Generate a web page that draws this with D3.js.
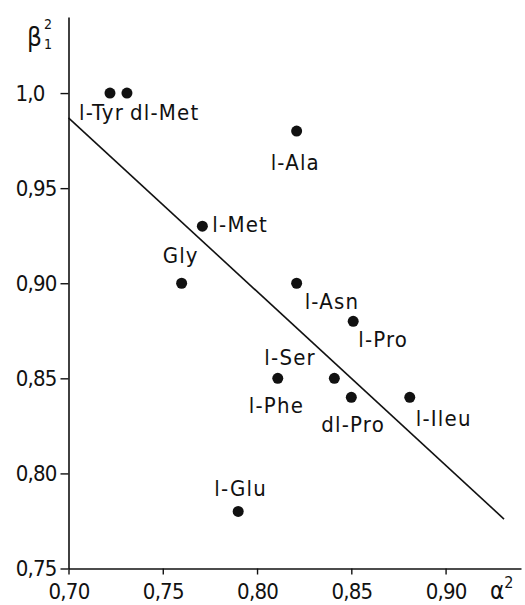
<!DOCTYPE html>
<html>
<head>
<meta charset="utf-8">
<script src="https://cdn.jsdelivr.net/npm/d3@7"></script>
<style>
  body { margin: 0; background: #fff; }
  text { font-family: "DejaVu Sans Condensed", "DejaVu Sans", sans-serif; fill: #111; }
</style>
</head>
<body>
<script>
// amino acids, alpha^2 (x) vs beta1^2 (y)
const names = ['l-Tyr', 'dl-Met', 'l-Ala', 'l-Met', 'Gly', 'l-Asn', 'l-Pro', 'l-Phe', 'l-Ser', 'dl-Pro', 'l-Ileu', 'l-Glu'];
const alphaSq = [0.722, 0.731, 0.821, 0.771, 0.760, 0.821, 0.851, 0.811, 0.841, 0.850, 0.881, 0.790];
const betaSq = [1.00, 1.00, 0.98, 0.93, 0.90, 0.90, 0.88, 0.85, 0.85, 0.84, 0.84, 0.78];

// fitted line end points
const fitX = [0.70, 0.931];
const fitY = [0.987, 0.776];

const xTicks = [0.70, 0.75, 0.80, 0.85, 0.90];
const xTickLabels = ['0,70', '0,75', '0,80', '0,85', '0,90'];
const yTicks = [0.75, 0.80, 0.85, 0.90, 0.95, 1.0];
const yTickLabels = ['0,75', '0,80', '0,85', '0,90', '0,95', '1,0'];

// label placement relative to its point (layout only)
const labelOffset = {
  'l-Tyr': [-31, 27], 'dl-Met': [3, 27], 'l-Ala': [-26, 39], 'l-Met': [10, 6],
  'Gly': [-19, -20], 'l-Asn': [8, 26], 'l-Pro': [5, 26], 'l-Phe': [-29, 35],
  'l-Ser': [-70, -13], 'dl-Pro': [-30, 35], 'l-Ileu': [6, 29], 'l-Glu': [-24, -15]
};

const width = 525, height = 605;

const x = d3.scaleLinear().domain([0.70, 0.94]).range([68.5, 521]);
const y = d3.scaleLinear().domain([0.75, 1.04]).range([568.5, 17]);

const svg = d3.select('body').append('svg')
  .attr('width', width)
  .attr('height', height);

// axes
const xAxis = svg.append('g')
  .attr('transform', `translate(0,${y(0.75)})`)
  .call(d3.axisBottom(x).tickValues(xTicks).tickSize(6).tickSizeOuter(0).tickPadding(10)
    .tickFormat((d, i) => xTickLabels[i]));

const yAxis = svg.append('g')
  .attr('transform', `translate(${x(0.70)},0)`)
  .call(d3.axisLeft(y).tickValues(yTicks).tickSize(8).tickSizeOuter(0).tickPadding(4)
    .tickFormat((d, i) => yTickLabels[i]));

[xAxis, yAxis].forEach(g => {
  g.select('.domain').attr('stroke', '#111').attr('stroke-width', 1.6);
  g.selectAll('.tick line').attr('stroke', '#111').attr('stroke-width', 1.4);
  g.selectAll('.tick text')
    .attr('fill', '#111')
    .style('font-size', '22px')
    .style('letter-spacing', '-0.8px')
    .style('font-family', '"DejaVu Sans Condensed", "DejaVu Sans", sans-serif');
});
xAxis.selectAll('.tick text').attr('dy', '0.68em');
// "1,0" sits further left in the original
yAxis.selectAll('.tick text').filter(d => d === 1.0).attr('dx', -12);

// fitted line
svg.append('line')
  .attr('x1', x(fitX[0])).attr('y1', y(fitY[0]))
  .attr('x2', x(fitX[1])).attr('y2', y(fitY[1]))
  .attr('stroke', '#111')
  .attr('stroke-width', 1.6);

// points
svg.selectAll('circle.pt')
  .data(names)
  .join('circle')
  .attr('class', 'pt')
  .attr('cx', (d, i) => x(alphaSq[i]))
  .attr('cy', (d, i) => y(betaSq[i]))
  .attr('r', 5.5)
  .attr('fill', '#111');

// point labels
svg.selectAll('text.lbl')
  .data(names)
  .join('text')
  .attr('class', 'lbl')
  .attr('x', (d, i) => x(alphaSq[i]) + labelOffset[d][0])
  .attr('y', (d, i) => y(betaSq[i]) + labelOffset[d][1])
  .style('font-size', '22px')
  .style('letter-spacing', '1.2px')
  .text(d => d);

// axis titles
const yTitle = svg.append('text')
  .attr('x', 27)
  .attr('y', 46)
  .style('font-size', '26px');
yTitle.append('tspan').text('β');
yTitle.append('tspan').attr('x', 44).attr('y', 29).style('font-size', '14px').text('2');
yTitle.append('tspan').attr('x', 44).attr('y', 49).style('font-size', '14px').text('1');

const xTitle = svg.append('text')
  .attr('x', 490)
  .attr('y', 599)
  .style('font-size', '24px');
xTitle.append('tspan').text('α');
xTitle.append('tspan').attr('dy', -11).style('font-size', '16px').text('2');
</script>
</body>
</html>
